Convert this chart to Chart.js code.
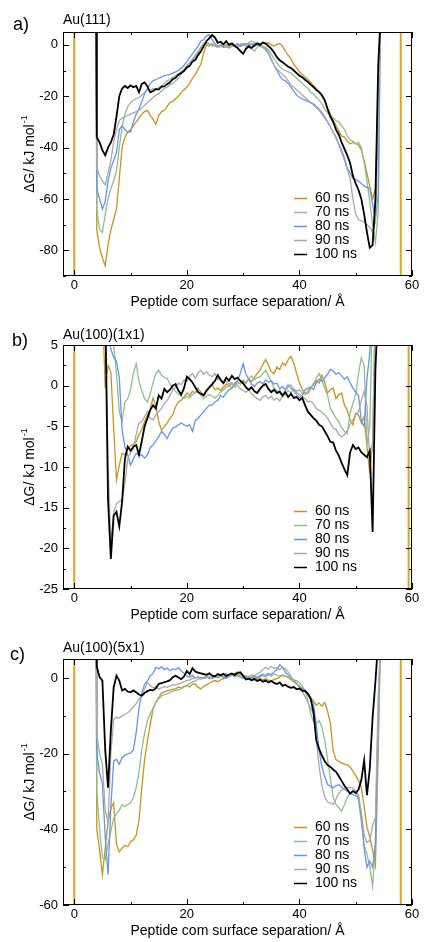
<!DOCTYPE html>
<html><head><meta charset="utf-8">
<script src="https://cdn.jsdelivr.net/npm/chart.js@4.4.1/dist/chart.umd.min.js"></script>
<style>
html,body{margin:0;padding:0;background:#fff;}
.panel{position:absolute;left:0;width:424px;height:314px;}
canvas{display:block;}
</style></head><body>
<div class="panel" style="top:0"><canvas id="cA" width="424" height="314"></canvas></div>
<div class="panel" style="top:314px"><canvas id="cB" width="424" height="314"></canvas></div>
<div class="panel" style="top:628px"><canvas id="cC" width="424" height="314"></canvas></div>
<script>
// ---------- data ----------
const separation = [3.9,
4,4.5,5,5.5,6,6.5,7,7.5,8,8.5,
9,9.5,10,10.5,11,11.5,12,12.5,13,13.5,
14,14.5,15,15.5,16,16.5,17,17.5,18,18.5,
19,19.5,20,20.5,21,21.5,22,22.5,23,23.5,
24,24.5,25,25.5,26,26.5,27,27.5,28,28.5,
29,29.5,30,30.5,31,31.5,32,32.5,33,33.5,
34,34.5,35,35.5,36,36.5,37,37.5,38,38.5,
39,39.5,40,40.5,41,41.5,42,42.5,43,43.5,
44,44.5,45,45.5,46,46.5,47,47.5,48,48.5,
49,49.5,50,50.5,51,51.5,52,52.5,53,53.5,
54,54.4];
const seriesLabels = ['60 ns','70 ns','80 ns','90 ns','100 ns'];

// a) Au(111)
const au111_60 = [10,
-72,-79,-83,-86,-78,-72,-68,-64,-52,-40,
-36,-34,-33,-31.5,-30,-28.5,-27,-26,-25.5,-27.5,
-29,-31,-27.5,-26,-25.5,-24,-22.5,-22,-21,-20,
-18.5,-17.5,-16.5,-15,-13,-11.5,-9.5,-7.5,-3,0,
0.5,0,-0.5,-1,-0.5,-1,-0.8,-1.2,-0.5,-0.5,
0,-0.5,0.2,-0.3,0.5,0,0.8,0.3,0.5,1,
0.5,0.8,0,-0.5,0.2,0.5,-0.5,-2.5,-4,-5.5,
-7.5,-9,-10.5,-11.5,-12.5,-13.5,-14.5,-16,-17,-18.5,
-20,-22,-24.5,-27,-29.5,-31.5,-33.5,-35.5,-36,-37.5,
-38.5,-38,-38.5,-39,-41,-45,-50,-55,-60,-56,
-25,10];
const au111_70 = [10,
-64,-72,-73,-66,-60,-56,-53,-49,-40,-32,
-27,-24,-22.5,-21.5,-21,-20.5,-19.5,-18.5,-17.5,-17.8,
-17,-17.5,-16.5,-16,-15,-14,-13.5,-12.5,-12,-11.5,
-10.5,-9.5,-8.5,-7,-6,-4.5,-3,-1,0.5,1,
0.5,-0.5,0,-1,-0.5,0.2,-0.5,0.5,0,-0.5,
-1,0,0.5,-0.3,-1,-1.5,-2.5,-1,0,-0.5,
-1,-2,-3.5,-5.5,-7,-8.5,-9.5,-10,-10.5,-11,
-12,-13,-14,-15,-16,-17,-18.5,-19,-20.5,-21.5,
-23,-25,-26.5,-27.5,-28.5,-29.5,-30,-31.5,-33,-35.5,
-37,-37.5,-38.5,-38,-40,-46,-53,-61,-70,-77,
-65,10];
const au111_80 = [10,
-56,-60,-64,-61,-53,-48,-45,-42,-33,-31.5,
-33,-34,-34,-30,-27,-25,-22,-19,-17,-15,
-14,-13.5,-13,-12.5,-12,-11.8,-11.5,-11,-10.5,-10,
-9,-8,-6.5,-5,-3.5,-2,-0.5,1.5,2,3.5,
4,2,0.5,-0.5,0,-0.8,0,-0.5,0.3,-0.2,
0.5,-0.5,0,0.5,-0.3,0.3,-0.5,0,-0.5,-1,
-1.5,-3,-5.5,-8,-10,-12,-13.5,-14,-15,-16.5,
-18,-19.5,-20.5,-21,-21.5,-22,-22.5,-23,-24,-25,
-26.5,-28,-30,-32,-34,-36,-38.5,-41,-44,-48,
-50,-52,-52.5,-53,-54,-55,-55.5,-56,-62,-68,
-58,10];
const au111_90 = [10,
-48,-51,-53,-54.5,-50,-45,-38,-33,-29.5,-28.5,
-28,-27.5,-27,-26.5,-26,-25.5,-24.5,-23.5,-22.5,-21.5,
-20.5,-19.5,-19,-18,-17,-16.5,-15.5,-15,-14,-13,
-11,-9.5,-8,-7,-5.5,-4,-2.5,-1,0.5,0.2,
-0.5,0.5,0,-0.8,-0.3,0.2,-0.5,0,0.5,0,
-0.5,0.3,0.5,0,0.8,1.5,1,0.5,0,-1,
-2,-3.5,-6,-8,-9.5,-10.5,-11.5,-12.5,-14,-15.5,
-16.5,-17.5,-18.5,-19.5,-20.5,-21.5,-22.5,-23.5,-24.5,-25.5,
-27,-28.5,-30,-32,-34,-36.5,-39,-42,-45,-48.5,
-52,-60,-66,-68,-68.5,-69,-70,-71,-73,-69,
-30,10];
const au111_100 = [10,
-36,-38,-41,-43,-40,-38,-35,-28,-20,-17,
-16,-16.8,-15.8,-16.5,-16,-18.5,-15.2,-14.6,-16.2,-18.5,
-18,-17.2,-17.4,-16.3,-16.2,-15.3,-14.6,-13.4,-12.8,-11.5,
-11,-10.2,-8.8,-8.2,-6.5,-5.8,-4,-2.5,-0.5,1.5,
2.6,3.8,2.8,0.8,1.2,0.2,1.4,0,0.6,-0.5,
-1.2,-2.4,-3.5,-1.5,-0.6,-1.2,-0.2,0.6,0,0.9,
0.5,-0.5,-1.5,-3,-4.8,-6,-6.8,-7.6,-8.5,-9,
-10,-11,-12,-12.6,-13.6,-14.4,-15.5,-16.4,-17.6,-18.3,
-19.6,-21.5,-25,-28,-30,-33,-35,-38,-40.5,-43,
-46,-51,-54,-56.5,-60,-66,-73,-79,-78,-60,
-8,10];

// b) Au(100)(1x1)
const au100_1x1_60 = [10,
10,10,10,-0.3,2.5,1.7,-5.2,-11.6,-9.8,-8.3,
-8.5,-7.7,-7.4,-7.2,-6.9,-6,-5.4,-4.4,-3.6,-2.8,
-1.5,-2.5,-4.4,-5.5,-5,-4.6,-4,-3.6,-2.6,-2,
-1.8,-1.4,-0.9,-1.2,-0.7,-0.9,-0.3,-0.8,-1.1,-0.6,
-0.2,0.1,-0.5,-0.3,-0.6,-0.2,0.2,-0.1,0.3,0,
0.4,0.2,0.6,0.3,0.8,0.5,1,1.5,1.9,2.6,
3.2,2.5,1.7,1.5,2.3,2,2.8,2.5,3.2,3.6,
2.8,1.5,0.4,-0.5,-0.9,-1,-0.3,0.1,0.6,0.3,
1.3,0.4,-0.9,-0.5,-0.3,-1.6,-1.1,-0.9,-2.4,-3,
-4.2,-4.8,-3.4,-3.6,-4.6,-3.8,-7.5,-10.8,-7,10,
10,10];
const au100_1x1_70 = [10,
10,10,10,10,10,10,5,1.5,-3.2,-4.4,
-2,-1.6,-0.5,1.5,2.7,0.5,-0.6,-1.6,-2,-1,
0.4,1.5,1.9,1.3,1,0.9,0.2,-0.3,-0.7,-1.1,
-1.3,-1.6,-1.3,-1.5,-1.1,-0.8,-0.7,-1.2,-1.6,-1.3,
-1.1,-1.3,-1.5,-1.2,-0.8,-0.5,-0.2,0.1,-0.3,0.2,
0.5,0.2,0.7,0.4,0.9,1.2,0.7,1,1.1,1.5,
1.9,1.2,0.5,-0.3,-0.6,-0.9,-1.4,-1,-0.6,-0.9,
-0.4,-0.7,-0.5,-0.9,-1.1,-0.6,-0.3,0.3,0.9,1.5,
0.6,-0.3,-1.2,-2.8,-3.4,-4,-4.4,-5.2,-5.6,-5.9,
-3.4,-2.2,-1.1,1.5,3.4,2.5,-7.3,-5,10,10,
10,10];
const au100_1x1_80 = [10,
10,10,10,10,6,4.5,3.5,3,1,-5.5,
-7.5,-8.5,-9.8,-9,-8.3,-8.6,-8.5,-8.9,-8.5,-7.6,
-7.3,-6.8,-6.3,-5.6,-6,-6.5,-5.8,-5.2,-5.1,-4.8,
-4.6,-4.8,-5,-4.8,-5.6,-4.3,-4,-3.6,-3.2,-2.8,
-2.4,-2.4,-2,-1.8,-1.2,-1.4,-0.9,-0.5,-0.3,0.3,
0.6,1.5,2.7,1.4,0.8,0.2,-0.1,0.3,0.5,0.2,
0.7,0.4,0.6,0.2,0.3,-0.4,-0.1,-0.5,0.1,-0.3,
-0.6,-1.1,-1.5,-1.2,-0.5,-0.3,-0.2,-0.5,0.4,0.8,
0.5,1,1.4,2,1.8,1.4,1.6,1.2,0.8,1.1,
0.4,-0.3,-0.8,-1.2,-4.4,-5,0.9,4,10,10,
10,10];
const au100_1x1_90 = [10,
10,10,10,10,-10,-19.5,-15.5,-14.5,-14.2,-14,
-12,-9,-8.2,-7.8,-6,-4.6,-4.4,-3.8,-3.2,-4,
-4.2,-3.6,-3.2,-2.8,-2.2,-1.8,-1.2,-0.5,-0.2,0.3,
0.1,0.7,0.5,1.2,1.5,0.9,1.6,1.9,1.4,1.7,
1.3,1.1,1.5,0.8,0.9,0.4,0.6,0.2,0.4,-0.2,
0.1,-0.4,-0.6,-0.8,-0.5,-1,-1.3,-1.6,-1.8,-1.4,
-1.2,-1.6,-1.3,-1.8,-1.5,-1.9,-1.2,-0.6,-0.2,0.1,
-0.4,-0.8,-1.1,-1.3,-1.6,-2,-1.9,-2.2,-2.8,-3,
-3.3,-3.6,-4,-4.6,-5.2,-5.4,-6,-6.3,-6,-5.5,
-4.8,-4.2,-3.6,-3.2,-1.8,-0.7,-2.4,-9.5,-7,10,
10,10];
const au100_1x1_100 = [10,
10,10,10,10,-14,-21.3,-16,-15.5,-17.3,-14.3,
-9,-7.5,-8,-7.5,-7.3,-8.5,-6.8,-5,-4,-3,
-2.4,-2.8,-1.2,-1.6,-0.4,-0.8,-0.5,0,0.2,-0.6,
-1.1,-0.3,1.1,0.8,0.4,-0.2,-0.8,-1,-1.2,-0.6,
-0.2,0.2,0.6,1.3,0.7,0.3,1,0.6,1.2,0.8,
1,0.6,0.3,-0.2,-0.5,-0.2,-0.7,-0.9,-0.4,0,
0.2,-0.4,-0.8,-0.5,-0.9,-0.7,-1.2,-0.8,-1.4,-1,
-1.5,-1.4,-1.8,-1.5,-2.4,-3.2,-3.6,-4,-4.3,-4.8,
-5,-5.6,-6.2,-6.9,-7,-8,-8.6,-9.5,-10.3,-11,
-8.2,-7.3,-7.8,-7.6,-8.2,-8.5,-8.8,-8,-18,2,
10,10];

// c) Au(100)(5x1)
const au100_5x1_60 = [10,
-40,-45.5,-52,-45,-38,-34.5,-33,-44,-46,-45,
-44.2,-44.6,-43.2,-42.8,-41.6,-37.8,-29,-21.5,-16.6,-12.2,
-8.2,-6.4,-5.2,-4,-3.7,-3.4,-3.2,-3,-2.9,-2.4,
-2.6,-2.2,-2,-2.4,-1.7,-1.6,-2.5,-2.9,-2.2,-1.8,
-1.4,-1,-0.7,-1,-0.5,-0.2,0.2,0.5,0.9,1.2,
1.6,1,0.6,0.2,0.3,0,-0.2,-0.4,-0.1,-0.5,
-0.3,-0.6,-0.8,-0.4,-0.2,0.3,0.6,0.4,0.1,-0.5,
-1,-1.6,-2.1,-3,-3.6,-4.4,-5.2,-6,-7.2,-6.6,
-7.5,-6.5,-8.8,-12,-19.3,-21.6,-22,-22.5,-22.8,-23,
-23.5,-24.6,-25.8,-27,-29,-34,-39.5,-42,-45.5,-49.5,
-20,10];
const au100_5x1_70 = [10,
-30,-40,-47.5,-48,-44,-40.5,-37,-36,-35,-33.5,
-34,-33.4,-33,-31.6,-29,-25,-19,-14.5,-11.3,-9.5,
-8,-6.4,-5.5,-4.7,-4.4,-4.2,-3.9,-3.5,-3.3,-3.1,
-2.9,-2.4,-2,-1.5,-1.1,-0.8,-0.4,0.2,-0.2,0.1,
0.3,-0.2,0.4,0,0.5,0.2,0.7,0.3,0.8,0.4,
1,0.5,0.2,0.6,0.1,-0.3,0.2,-0.2,0.3,0.6,
0.2,0.9,0.4,1.1,0.7,0.4,0.9,0.5,0.2,-0.2,
-0.5,-0.7,-1.2,-2.2,-3.3,-6,-9.5,-11.5,-12,-11.3,
-13,-16.5,-21.5,-26.5,-31.6,-33.4,-34.3,-35.2,-33.5,-31.6,
-30.4,-29.9,-29.9,-32.5,-38,-44.5,-46.5,-50,-55,-44,
-15,10];
const au100_5x1_80 = [10,
-20,-25,-28,-42,-52,-34,-22,-21.5,-22.8,-21,
-20.4,-20.1,-19.8,-19,-14.5,-8,-4,-1.6,-0.8,0.6,
1.2,2.8,2.4,2.9,2.2,2.6,1.9,2.4,2.2,2.7,
1.9,1.2,0.5,0.2,0.6,-0.1,0.3,-0.2,0.1,0.4,
-0.2,0.2,0.5,0.1,0.6,0.2,-0.1,0.4,0.8,0.3,
0.6,0.2,-0.1,0.3,-0.2,0.2,0.5,0.1,0.6,1,
0.7,1.2,0.9,1.6,2.2,3.5,2.8,1.5,0.8,0.2,
-0.6,-1.4,-2.4,-2.8,-3.2,-4,-5.2,-6.9,-12.5,-19,
-23.5,-26,-28.2,-28.6,-29,-28.5,-28.2,-28.8,-29.5,-29.9,
-30.3,-30.8,-31.2,-31.6,-36.5,-45,-50,-48.4,-50,-44,
-8,10];
const au100_5x1_90 = [10,
-15,-20,-22.8,-35,-38,-20,-11,-10.4,-10.6,-10,
-9.6,-9.2,-8.6,-7.6,-6.8,-5.6,-4.4,-3,-1.2,-2,
-2.6,-2.4,-2.9,-2.6,-2.3,-2.5,-2.1,-1.8,-1.9,-1.6,
-1.4,-1,-0.7,-0.5,-0.2,0.1,0.2,-0.3,0.1,0.5,
0.2,-0.2,0.3,0.7,0.3,0.8,1.2,0.6,1,0.4,
0.8,0.2,0.5,0.1,0.4,0.8,0.5,1.1,1.5,2.2,
2.8,2.3,3,2.5,2.7,2.2,2.9,2.4,1.6,0.3,
-0.6,-1.3,-2.5,-3.5,-5,-6.5,-8,-9.5,-16,-23.5,
-28.5,-31.5,-32.8,-33,-33.4,-32,-30.5,-29.6,-29.2,-29,
-29,-29.2,-30,-30.8,-35.5,-41.5,-43.5,-43,-39,-36.9,
-5,10];
const au100_5x1_100 = [10,
3,0.2,-0.7,-19,-29,-14,-2.5,0.6,-0.7,-3.3,
-2.9,-3.6,-3.8,-3.3,-3.8,-4.4,-4.7,-4,-3.5,-3.2,
-3.3,-2.7,-1.6,-1.4,-1.1,-0.9,-0.6,0.2,0.6,0.1,
-0.3,0.4,1.8,1,2.6,1.7,1.4,1.2,1,0.8,
1.2,0.6,0.4,1,0.7,1.1,0.5,0.9,1.2,0.8,
1.3,1.5,0.6,-0.4,-0.2,-0.6,-0.3,-0.8,-0.5,-1,
-0.7,-1.2,-0.8,-1.3,-1.6,-1.2,-2.1,-1.8,-2.3,-2.6,
-2.4,-3,-2.8,-3.4,-3.4,-4.2,-5.5,-9,-16.5,-18.8,
-20.5,-22,-23,-23.5,-24.2,-24.8,-26,-27.2,-28.5,-29.5,
-30.6,-29.9,-30.4,-29.5,-27,-21.8,-31,-24,-10.5,-1,
10,10];

// vertical reference lines (wall positions)
const wallsA = [0, 58];
const wallsB = [0, 59.4];
const wallsC = [0, 58];

// ---------- styling ----------
const FONT = '"Liberation Sans", Arial, Helvetica, sans-serif';
const colors = ['#c8941c', '#8fbf8f', '#6495ed', '#a9a9a9', '#000000'];
const widths = [1.3, 1.3, 1.3, 1.3, 1.8];
const wallColor = '#dba325';

const decor = {
  id: 'decor',
  afterDraw(chart) {
    const o = chart.options.plugins.decor;
    const ctx = chart.ctx, ca = chart.chartArea;
    const xs = chart.scales.x, ys = chart.scales.y;
    const line = (x1, y1, x2, y2) => { ctx.beginPath(); ctx.moveTo(x1, y1); ctx.lineTo(x2, y2); ctx.stroke(); };
    ctx.save();
    ctx.strokeStyle = '#000'; ctx.lineWidth = 1;
    ctx.strokeRect(ca.left + 0.5, ca.top + 0.5, ca.width - 1, ca.height - 1);
    xs.ticks.forEach(t => {
      const p = Math.round(xs.getPixelForValue(t.value)) + 0.5;
      const len = (Math.abs(t.value % 20) < 1e-9) ? 6 : 3;
      line(p, ca.bottom, p, ca.bottom - len);
      line(p, ca.top, p, ca.top + len);
    });
    ys.ticks.forEach(t => {
      const p = Math.round(ys.getPixelForValue(t.value)) + 0.5;
      const len = (Math.abs(t.value % o.ylab) < 1e-9) ? 6 : 3;
      line(ca.left, p, ca.left + len, p);
      line(ca.right, p, ca.right - len, p);
    });
    ctx.fillStyle = '#000'; ctx.textBaseline = 'middle'; ctx.textAlign = 'left';
    ctx.font = '18px ' + FONT; ctx.fillText(o.panel, o.panelX, o.panelY);
    ctx.font = '14px ' + FONT; ctx.fillText(o.surface, 63, o.surfaceY);
    ctx.textAlign = 'center';
    ctx.fillText('Peptide com surface separation/ Å', (ca.left + ca.right) / 2, ca.bottom + 26.5);
    // y title with superscript
    ctx.save();
    ctx.translate(30, (ca.top + ca.bottom) / 2);
    ctx.rotate(-Math.PI / 2);
    ctx.textAlign = 'left';
    const main = 'ΔG/ kJ mol';
    ctx.font = '14px ' + FONT; const w1 = ctx.measureText(main).width;
    ctx.font = '9px ' + FONT; const w2 = ctx.measureText('-1').width;
    const start = -(w1 + w2 + 1) / 2;
    ctx.font = '14px ' + FONT; ctx.fillText(main, start, 0);
    ctx.font = '9px ' + FONT; ctx.fillText('-1', start + w1 + 1, -5);
    ctx.restore();
    // legend
    ctx.textAlign = 'left';
    seriesLabels.forEach((lab, i) => {
      const yy = Math.round(ca.bottom - 22 - 14 * (4 - i)) + 0.5;
      ctx.strokeStyle = colors[i]; ctx.lineWidth = 1.5;
      line(294, yy, 307, yy);
      ctx.fillStyle = '#000'; ctx.font = '14px ' + FONT;
      ctx.fillText(lab, 315, yy);
    });
    ctx.restore();
  }
};

function seriesSet(arr, i) {
  return {
    label: seriesLabels[i],
    data: separation.map((x, k) => ({x: x, y: arr[k]})),
    borderColor: colors[i], borderWidth: widths[i],
    pointRadius: 0, tension: 0, fill: false, order: 4 - i, clip: 0
  };
}
function wallSet(walls, ymin, ymax) {
  const d = [];
  walls.forEach((w, i) => { if (i) d.push({x: w, y: null}); d.push({x: w, y: ymin}, {x: w, y: ymax}); });
  return {label: 'wall', data: d, borderColor: wallColor, borderWidth: 2, pointRadius: 0, order: 5, clip: 0, spanGaps: false};
}

function makeChart(id, series, walls, cfg) {
  const datasets = series.map((s, i) => seriesSet(s, i));
  datasets.push(wallSet(walls, cfg.ymin, cfg.ymax));
  new Chart(document.getElementById(id), {
    type: 'line',
    data: {datasets: datasets},
    options: {
      responsive: false, animation: false, devicePixelRatio: 1,
      layout: {padding: {top: cfg.top, right: 12, left: 0, bottom: 0}},
      plugins: {legend: {display: false}, tooltip: {enabled: false}, decor: cfg},
      scales: {
        x: {
          type: 'linear', min: -2, max: 60,
          afterFit: s => { s.height = cfg.xh; },
          grid: {display: false, drawTicks: false}, border: {display: false},
          ticks: {stepSize: 10, includeBounds: false, autoSkip: false, maxRotation: 0, padding: 2,
            color: '#000', font: {family: FONT, size: 13},
            callback: v => (Math.abs(v % 20) < 1e-9) ? String(v) : ''}
        },
        y: {
          type: 'linear', min: cfg.ymin, max: cfg.ymax,
          afterFit: s => { s.width = 63; },
          grid: {display: false, drawTicks: false}, border: {display: false},
          ticks: {stepSize: cfg.ystep, includeBounds: false, autoSkip: false, padding: 5,
            color: '#000', font: {family: FONT, size: 13},
            callback: v => (Math.abs(v % cfg.ylab) < 1e-9) ? String(v) : ''}
        }
      }
    },
    plugins: [decor]
  });
}

makeChart('cA', [au111_60, au111_70, au111_80, au111_90, au111_100], wallsA,
  {top: 32, xh: 38, ymin: -90, ymax: 5, ystep: 10, ylab: 20,
   panel: 'a)', panelX: 13, panelY: 25, surface: 'Au(111)', surfaceY: 20.5});
makeChart('cB', [au100_1x1_60, au100_1x1_70, au100_1x1_80, au100_1x1_90, au100_1x1_100], wallsB,
  {top: 31, xh: 39, ymin: -25, ymax: 5, ystep: 2.5, ylab: 5,
   panel: 'b)', panelX: 12, panelY: 27.5, surface: 'Au(100)(1x1)', surfaceY: 21});
makeChart('cC', [au100_5x1_60, au100_5x1_70, au100_5x1_80, au100_5x1_90, au100_5x1_100], wallsC,
  {top: 31, xh: 37, ymin: -60, ymax: 5, ystep: 10, ylab: 20,
   panel: 'c)', panelX: 10, panelY: 27, surface: 'Au(100)(5x1)', surfaceY: 20.5});
</script>
</body></html>
